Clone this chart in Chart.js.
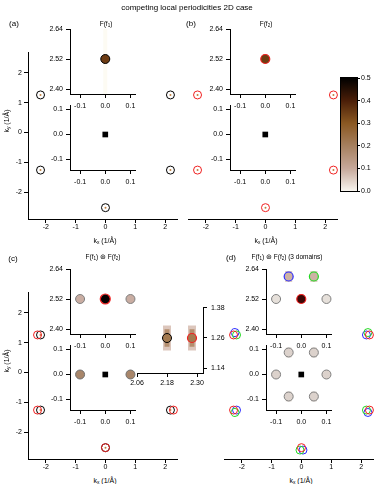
<!DOCTYPE html>
<html>
<head>
<meta charset="utf-8">
<script src="https://cdn.jsdelivr.net/npm/chart.js@4"></script>
<style>
body { margin: 0; background: #fff; width: 374px; height: 484px; position: relative; overflow: hidden; font-family: "Liberation Sans", Arial, sans-serif; }
canvas { position: absolute; }
.t { position: absolute; white-space: nowrap; color: #000; line-height: 1; z-index: 10; }
.t sub { font-size: 70%; vertical-align: -0.25em; line-height: 0; }
</style>
</head>
<body>
<script>
// --- data: peak positions (1/Å) ---
const f1X = [-2.18, 2.18, -2.18, 2.18, 0, 0];
const f1Y = [1.26, 1.26, -1.26, -1.26, -2.52, 2.52];
const f2X = [-2.28, 2.28, -2.28, 2.28, 0, 0];
const f2Y = [1.26, 1.26, -1.26, -1.26, -2.52, 2.52];
const greenX = [0.05, -2.23, 2.23, -0.05, -2.18, 2.18];
const greenY = [2.60, -1.34, 1.34, -2.60, 1.26, -1.26];
const blueX = [2.23, -0.05, 0.05, -2.23, 2.18, -2.18];
const blueY = [-1.34, 2.60, -2.60, 1.34, 1.26, -1.26];

// inset peaks
const centerX = [0];
const centerUpperY = [2.52];
const centerLowerY = [0];
const sideX = [-0.1, 0.1];
const sideUpperY = [2.52, 2.52];
const sideLowerY = [0, 0];
const domUpperX = [-0.05, 0.05];
const domUpperY = [2.61, 2.61];
const ringX = [-0.05, 0.05, -0.1, 0.1, -0.05, 0.05];
const ringY = [0.088, 0.088, 0, 0, -0.088, -0.088];
const zoomX = [2.18, 2.28];
const zoomY = [1.26, 1.26];
const zoomSpread = [0.05, 0.05];

// ticks
const mainTicks = [-2, -1, 0, 1, 2];
const mainLabels = ['-2', '-1', '0', '1', '2'];
const insetXTicks = [-0.1, 0, 0.1];
const insetXLabels = ['-0.1', '0.0', '0.1'];
const upperYTicks = [2.40, 2.52, 2.64];
const upperYLabels = ['2.40', '2.52', '2.64'];
const lowerYTicks = [-0.1, 0, 0.1];
const lowerYLabels = ['-0.1', '0.0', '0.1'];
const zoomXTicks = [2.06, 2.18, 2.30];
const zoomXLabels = ['2.06', '2.18', '2.30'];
const zoomYTicks = [1.14, 1.26, 1.38];
const zoomYLabels = ['1.14', '1.26', '1.38'];
const cbarTicks = [0, 0.1, 0.2, 0.3, 0.4, 0.5];
const cbarLabels = ['0.0', '0.1', '0.2', '0.3', '0.4', '0.5'];
const cbarColors = ['#f8f5ef', '#c6a89a', '#a6805f', '#8a5822', '#4a1e08', '#000000'];

const RED = '#f02020', GREEN = '#22d822', BLUE = '#2a2aff';

function pts(xs, ys) { return xs.map((x, i) => ({ x: x, y: ys[i] })); }

function marks(data, r, fill, line, bw, style) {
    return { data: data, pointRadius: r, pointHoverRadius: r, pointBackgroundColor: fill,
        pointBorderColor: line, pointBorderWidth: bw, pointStyle: style || 'circle', clip: false };
}

function smear(x, y, half, width, color) {
    return { data: [{ x: x, y: y - half }, { x: x, y: y + half }], showLine: true, pointRadius: 0,
        borderWidth: width, borderColor: color, borderCapStyle: 'butt', clip: false };
}

function axis(ax, horiz, size) {
    const ticks = ax.ticks || [];
    return {
        type: 'linear', position: ax.pos, min: ax.min, max: ax.max, bounds: 'data',
        afterBuildTicks: s => { s.ticks = ticks.map(v => ({ value: v })); },
        afterFit: s => {
            if (horiz) s.height = size; else s.width = size;
            s.paddingLeft = s.paddingRight = s.paddingTop = s.paddingBottom = 0;
        },
        grid: { display: !ax.hide, drawOnChartArea: false, drawTicks: true, tickLength: ax.tl || 4, color: '#000', lineWidth: 1 },
        border: { display: !ax.hide, color: '#000', width: 1 },
        ticks: { display: !ax.hide, padding: ax.pad || 0, color: '#000', font: { family: 'Liberation Sans', size: 7 },
            maxRotation: 0, autoSkip: false, callback: (v, i) => (ax.labels || [])[i] }
    };
}

const whiteArea = {
    id: 'whiteArea',
    beforeDraw(chart) {
        const a = chart.chartArea, c = chart.ctx;
        c.save(); c.fillStyle = '#fff';
        c.fillRect(a.left, a.top, a.right - a.left, a.bottom - a.top);
        c.restore();
    }
};

const frame = {
    id: 'frame',
    afterDatasetsDraw(chart) {
        const a = chart.chartArea, c = chart.ctx;
        c.save(); c.strokeStyle = '#000'; c.lineWidth = 1;
        c.strokeRect(a.left - 0.5, a.top - 0.5, a.right - a.left + 1, a.bottom - a.top + 1);
        c.restore();
    }
};

function plot(o) {
    const c = document.createElement('canvas');
    const W = o.w + o.padL + o.padR, H = o.h + o.padT + o.padB;
    c.width = W; c.height = H;
    c.style.left = (o.l - o.padL) + 'px';
    c.style.top = (o.t - o.padT) + 'px';
    c.style.width = W + 'px'; c.style.height = H + 'px';
    c.style.zIndex = o.z || 1;
    document.body.appendChild(c);
    const yRight = o.y.pos === 'right';
    return new Chart(c, {
        type: 'scatter',
        data: { datasets: o.sets },
        options: {
            responsive: false, animation: false, events: [], devicePixelRatio: 1,
            layout: { autoPadding: false, padding: { left: yRight ? o.padL : 0, right: yRight ? 0 : o.padR, top: o.padT, bottom: 0 } },
            plugins: { legend: { display: false }, tooltip: { enabled: false } },
            scales: { x: axis(o.x, true, o.padB), y: axis(o.y, false, yRight ? o.padR : o.padL) }
        },
        plugins: o.plugins || []
    });
}

function label(html, cx, cy, size, rot) {
    const d = document.createElement('div');
    d.className = 't';
    d.innerHTML = html;
    d.style.left = cx + 'px';
    d.style.top = cy + 'px';
    d.style.fontSize = size + 'px';
    d.style.transform = 'translate(-50%,-50%)' + (rot ? ' rotate(-90deg)' : '');
    document.body.appendChild(d);
}

// --- main panels ---
const mainXAxis = { min: -2.6, max: 2.4, ticks: mainTicks, labels: mainLabels, pos: 'bottom', pad: 0 };
const mainYAxis = { min: -2.9, max: 2.7, ticks: mainTicks, labels: mainLabels, pos: 'left', pad: 2 };
const noYAxis = { min: -2.9, max: 2.7, pos: 'left', hide: true };
const DOT = '#c08040', NONE = 'rgba(0,0,0,0)';

plot({ l: 28, t: 52, w: 149, h: 167, padL: 28, padR: 2, padT: 2, padB: 16, x: mainXAxis, y: mainYAxis,
    sets: [marks(pts(f1X, f1Y), 1, DOT, DOT, 0), marks(pts(f1X, f1Y), 4, NONE, '#000', 1)] });
plot({ l: 188, t: 52, w: 149, h: 167, padL: 4, padR: 2, padT: 2, padB: 16, x: mainXAxis, y: noYAxis,
    sets: [marks(pts(f2X, f2Y), 1, DOT, DOT, 0), marks(pts(f2X, f2Y), 4, NONE, RED, 1)] });
plot({ l: 28, t: 292, w: 149, h: 167, padL: 28, padR: 2, padT: 2, padB: 16, x: mainXAxis, y: mainYAxis,
    sets: [marks(pts(f2X, f2Y), 4, NONE, RED, 1), marks(pts(f1X, f1Y), 1, DOT, DOT, 0), marks(pts(f1X, f1Y), 4, NONE, '#000', 1)] });
plot({ l: 224, t: 292, w: 149, h: 167, padL: 4, padR: 1, padT: 2, padB: 16, x: mainXAxis, y: noYAxis,
    sets: [marks(pts(f2X, f2Y), 4, NONE, RED, 1), marks(pts(greenX, greenY), 4, NONE, GREEN, 1), marks(pts(blueX, blueY), 4, NONE, BLUE, 1)] });

// --- insets ---
const inX = { min: -0.14, max: 0.118, ticks: insetXTicks, labels: insetXLabels, pos: 'bottom', pad: 4 };
const inUpY = { min: 2.38, max: 2.64, ticks: upperYTicks, labels: upperYLabels, pos: 'left', pad: 3 };
const inLowY = { min: -0.142, max: 0.118, ticks: lowerYTicks, labels: lowerYLabels, pos: 'left', pad: 3 };
function inset(l, t, yAx, sets, z) {
    plot({ l: l, t: t, w: 65, h: 65, padL: 22, padR: 5, padT: 4, padB: 18, x: inX, y: yAx, sets: sets, z: z, plugins: [whiteArea] });
}
const square = marks(pts(centerX, centerLowerY), 4, '#000', '#000', 0, 'rect');

// (a)
inset(70, 105, inLowY, [square], 2);
inset(70, 29, inUpY, [marks(pts(centerX, centerUpperY), 4.5, '#6e3c12', '#000', 1),
    smear(centerX[0], 2.51, 0.13, 4, '#fdfbf3')], 3);
// (b)
inset(230, 105, inLowY, [square], 2);
inset(230, 29, inUpY, [marks(pts(centerX, centerUpperY), 4.5, '#6e3c12', RED, 1.2)], 3);
// (c)
inset(70, 345, inLowY, [square, marks(pts(sideX, sideLowerY), 4.5, '#a8866a', '#707070', 1)], 2);
inset(70, 269, inUpY, [marks(pts(centerX, centerUpperY), 5, NONE, RED, 1.2),
    marks(pts(centerX, centerUpperY), 4.3, '#080000', '#000', 1),
    marks(pts(sideX, sideUpperY), 4.5, '#c9ada2', '#808080', 1)], 3);
// (d)
const ringSmears = [0, 1, 4, 5].map(i => smear(ringX[i], ringY[i], 0.02, 6, '#ece4de'));
inset(266, 345, inLowY, [square, marks(pts(ringX, ringY), 4.5, '#dcd2cc', '#808080', 1)].concat(ringSmears), 2);
inset(266, 269, inUpY, [marks(pts(centerX, centerUpperY), 4.5, '#3c0806', RED, 1.2),
    marks(pts(domUpperX.slice(0, 1), domUpperY.slice(0, 1)), 4.5, '#cdb2a4', BLUE, 1.2),
    marks(pts(domUpperX.slice(1), domUpperY.slice(1)), 4.5, '#cdb2a4', GREEN, 1.2),
    marks(pts(sideX, sideUpperY), 4.5, '#e6e0da', '#808080', 1),
    smear(domUpperX[0], domUpperY[0], 0.022, 7, '#dccbc0'),
    smear(domUpperX[1], domUpperY[1], 0.022, 7, '#dccbc0')], 3);

// (c) zoom on the (2.2, 1.26) peaks
plot({ l: 137, t: 307, w: 66, h: 66, padL: 10, padR: 22, padT: 4, padB: 18, z: 2, plugins: [whiteArea],
    x: { min: 2.06, max: 2.324, ticks: zoomXTicks, labels: zoomXLabels, pos: 'bottom', pad: 2 },
    y: { min: 1.12, max: 1.384, ticks: zoomYTicks, labels: zoomYLabels, pos: 'right', pad: 4 },
    sets: [marks(pts(zoomX.slice(0, 1), zoomY.slice(0, 1)), 4.5, '#a47a50', '#000', 1),
        marks(pts(zoomX.slice(1), zoomY.slice(1)), 4.5, '#a47a50', RED, 1.2),
        smear(zoomX[0], zoomY[0], zoomSpread[0] * 0.7, 5, '#b48e6e'),
        smear(zoomX[1], zoomY[1], zoomSpread[1] * 0.7, 5, '#b48e6e'),
        smear(zoomX[0], zoomY[0], zoomSpread[0], 8, '#dcc6bc'),
        smear(zoomX[1], zoomY[1], zoomSpread[1], 8, '#dcc6bc')] });

// --- colour scale ---
plot({ l: 341, t: 78, w: 16, h: 113, padL: 2, padR: 20, padT: 4, padB: 4, z: 2, plugins: [frame],
    x: { min: -1, max: 1, pos: 'bottom', hide: true },
    y: { min: 0, max: 0.5, ticks: cbarTicks, labels: cbarLabels, pos: 'right', pad: 1, tl: 3 },
    sets: [{
        data: [{ x: 0, y: 0 }, { x: 0, y: 0.5 }], showLine: true, pointRadius: 0, borderWidth: 16, borderCapStyle: 'butt',
        borderColor: ctx => {
            const ys = ctx.chart.scales.y;
            const y0 = ys ? ys.getPixelForValue(0) : NaN, y1 = ys ? ys.getPixelForValue(0.5) : NaN;
            if (!Number.isFinite(y0) || !Number.isFinite(y1) || y0 === y1) return '#a6805f';
            const g = ctx.chart.ctx.createLinearGradient(0, y0, 0, y1);
            cbarTicks.forEach((v, i) => g.addColorStop(v / 0.5, cbarColors[i]));
            return g;
        }
    }] });

// --- text ---
label('competing local periodicities 2D case', 187, 8, 8);
label('(a)', 14, 24, 8);
label('(b)', 191, 24, 8);
label('(c)', 13, 259, 8);
label('(d)', 231, 258, 8);
label('F(f<sub>1</sub>)', 106, 24, 6.5);
label('F(f<sub>2</sub>)', 266, 24, 6.5);
label('F(f<sub>1</sub>) &#8859; F(f<sub>2</sub>)', 103, 257, 6.5);
label('F(f<sub>1</sub>) &#8859; F(f<sub>2</sub>) (3 domains)', 287, 257, 6.5);
label('k<sub>x</sub> (1/&Aring;)', 105, 240, 7);
label('k<sub>x</sub> (1/&Aring;)', 266, 240, 7);
label('k<sub>x</sub> (1/&Aring;)', 105, 480, 7);
label('k<sub>x</sub> (1/&Aring;)', 301, 480, 7);
label('k<sub>y</sub> (1/&Aring;)', 6, 121, 7, true);
label('k<sub>y</sub> (1/&Aring;)', 6, 361, 7, true);
</script>
</body>
</html>
